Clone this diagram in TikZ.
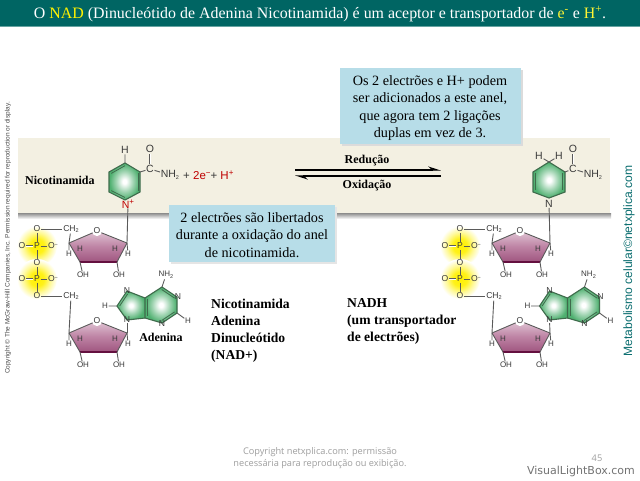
\documentclass[tikz,border=0pt]{standalone}
\usepackage{fontspec}
\setmainfont{Liberation Serif}
\newfontfamily\chemf{Liberation Sans}
\newfontfamily\footf{Open Sans}
\newfontfamily\vlbf{DejaVu Sans}
\usetikzlibrary{calc,arrows.meta}
\definecolor{teal0}{HTML}{006563}
\definecolor{band0}{HTML}{F3F0E2}
\definecolor{call0}{HTML}{B7DDE8}
\definecolor{atom0}{HTML}{3A3A3A}
\definecolor{bond0}{HTML}{5A5A5A}
\definecolor{ringline}{HTML}{3F6B4C}
\definecolor{ringdark}{HTML}{4FB070}
\definecolor{sugdark}{HTML}{A85A86}
\definecolor{sugedge}{HTML}{64103F}
\definecolor{hiyel}{HTML}{FFF000}
\definecolor{labteal}{HTML}{0B6E70}
\pgfdeclareradialshading{ringsh}{\pgfpoint{0bp}{0bp}}{color(0bp)=(white); color(3bp)=(white); color(14bp)=(ringdark!55!white); color(24bp)=(ringdark); color(50bp)=(ringdark)}
\pgfdeclareradialshading{glowsh}{\pgfpoint{0bp}{0bp}}{color(0bp)=(hiyel); color(9bp)=(hiyel!90!white); color(17bp)=(hiyel!40!white); color(25bp)=(white); color(50bp)=(white)}
\newcommand{\sbs}[1]{\raisebox{-1.6pt}{\fontsize{5.5}{6}\selectfont #1}}
\newcommand{\sps}[1]{\raisebox{2.6pt}{\fontsize{5.5}{6}\selectfont #1}}
\newcommand{\spb}[1]{\raisebox{3.6pt}{\fontsize{8}{8}\selectfont #1}}
\tikzset{
  atom/.style={font=\chemf\fontsize{8.6}{9}\selectfont,text=atom0,inner sep=0.6pt},
  atomb/.style={atom,font=\chemf\fontsize{10.5}{11}\selectfont},
  atomh/.style={atom,fill=white,rounded corners=2pt},
  hlab/.style={atom,font=\chemf\fontsize{8}{8}\selectfont},
  bond/.style={draw=bond0,line width=0.9pt},
  rbond/.style={draw=ringline,line width=1.1pt},
  redtxt/.style={font=\chemf\fontsize{11.5}{12}\selectfont,inner sep=0pt},
  caption/.style={font=\fontsize{14.2}{17.6}\selectfont,align=center,inner sep=0pt,text=black},
  blocktxt/.style={font=\bfseries\fontsize{13.6}{17}\selectfont,align=left,anchor=north west,inner sep=0pt,text=black},
  smallbold/.style={font=\bfseries\fontsize{12}{13}\selectfont,inner sep=0pt,text=black},
  callbox/.style={fill=call0,draw=none},
  head/.style={font=\fontsize{15.9}{17}\selectfont,text=white,inner sep=0pt},
  foot/.style={font=\footf\fontsize{9.2}{12}\selectfont,text=black!38,align=center,inner sep=0pt},
}
\newcommand{\sugar}[3]{%
\begin{scope}[shift={(#2,#3)}]
  \coordinate (#1L) at (69,243); \coordinate (#1R) at (127,243);
  \coordinate (#1BL) at (80,262); \coordinate (#1BR) at (117,262);
  \coordinate (#1T) at (97,231);
  \shade[top color=sugdark!35!white,bottom color=sugdark!95!black,middle color=sugdark!75!white]
     (#1L)--(#1T)--(#1R)--(#1BR)--(#1BL)--cycle;
  \draw[bond] (#1L)--(#1T)--(#1R);
  \draw[bond] (#1L)--(#1BL) (#1R)--(#1BR);
  \draw[draw=sugedge,line width=2.6pt] (#1BL)--(#1BR);
  \node[atomh,circle,inner sep=0.4pt] (#1O) at (#1T) {O};
  \node[hlab] (#1h1) at (80,249) {H};
  \node[hlab] (#1h2) at (115,249) {H};
  \node[hlab] (#1h3) at (69,254) {H};
  \node[hlab] (#1h4) at (128,254) {H};
  \draw[bond] (#1L)--(#1h3) (#1R)--(#1h4);
  \node[hlab] (#1oh1) at (83,275) {OH};
  \node[hlab] (#1oh2) at (119,275) {OH};
  \draw[bond] (#1BL)--(#1oh1) (#1BR)--(#1oh2);
\end{scope}}
\newcommand{\phos}[3]{%
\begin{scope}[shift={(#2,#3)}]
  \shade[shading=glowsh] (37,246) circle (20);
  \shade[shading=glowsh] (37,279) circle (20);
  \node[atom] (#1a) at (37,229) {O};
  \node[atom] (#1P) at (37,246) {P};
  \node[atom] (#1b) at (22,246) {O};
  \node[atom] (#1c) at (53,246) {O\sps{−}};
  \node[atom] (#1d) at (37,263) {O};
  \node[atom] (#1Q) at (37,279) {P};
  \node[atom] (#1e) at (22,279) {O};
  \node[atom] (#1f) at (53,279) {O\sps{−}};
  \node[atom] (#1g) at (37,296) {O};
  \node[atom] (#1ch) at (71,229) {CH\sbs{2}};
  \node[atom] (#1ci) at (71,296) {CH\sbs{2}};
  \draw[bond] (#1a)--(#1P) (#1P)--(#1d) (#1d)--(#1Q) (#1Q)--(#1g);
  \draw[bond] (#1P)--(#1c) (#1Q)--(#1f);
  \draw[bond,double,double distance=1pt,line width=0.6pt] (#1b)--(#1P);
  \draw[bond,double,double distance=1pt,line width=0.6pt] (#1e)--(#1Q);
  \draw[bond] (#1a)--(#1ch) (#1g)--(#1ci);
\end{scope}}
\newcommand{\aden}[3]{%
\begin{scope}[shift={(#2,#3)}]
  \coordinate (#1c6) at (162,287); \coordinate (#1n1) at (177,297);
  \coordinate (#1c2) at (177,313); \coordinate (#1n3) at (162,323);
  \coordinate (#1c4) at (145,318); \coordinate (#1c5) at (145,298);
  \coordinate (#1n7) at (127,291); \coordinate (#1c8) at (117,306);
  \coordinate (#1n9) at (127,320); \coordinate (#1cen) at (160,305);
  \coordinate (#1cenb) at (130,306);
  \shade[shading=ringsh] (#1c6)--(#1n1)--(#1c2)--(#1n3)--(#1c4)--(#1c5)--cycle;
  \shade[shading=ringsh] (#1c5)--(#1n7)--(#1c8)--(#1n9)--(#1c4)--cycle;
  \draw[rbond] (#1c6)--(#1n1)--(#1c2)--(#1n3)--(#1c4)--(#1c5)--cycle;
  \draw[rbond] (#1c5)--(#1n7)--(#1c8)--(#1n9)--(#1c4);
  \draw[rbond,line width=0.8pt] ($(#1c6)!.14!(#1cen)$)--($(#1n1)!.14!(#1cen)$);
  \draw[rbond,line width=0.8pt] ($(#1c2)!.14!(#1cen)$)--($(#1n3)!.14!(#1cen)$);
  \draw[rbond,line width=0.8pt] ($(#1c4)!.16!(#1cen)$)--($(#1c5)!.16!(#1cen)$);
  \draw[rbond,line width=0.8pt] ($(#1n7)!.2!(#1cenb)$)--($(#1c8)!.2!(#1cenb)$);
  \node[atom,inner sep=0pt] (#1N1) at (178,297) {N};
  \node[atom,inner sep=0pt] (#1N3) at (162,324) {N};
  \node[atom,inner sep=0pt] (#1N7) at (127,291) {N};
  \node[atom,inner sep=0pt] (#1N9) at (127,320) {N};
  \node[hlab] (#1nh) at (166,275) {NH\sbs{2}};
  \node[hlab] (#1h8) at (105,306) {H};
  \node[hlab] (#1h2) at (188,321) {H};
  \draw[bond] (#1c6)--(#1nh) (#1c8)--(#1h8) (#1c2)--(#1h2);
\end{scope}}
\begin{document}
\begin{tikzpicture}[x=1pt,y=-1pt]
\useasboundingbox (0,0) rectangle (640,480);
\fill[white] (0,0) rectangle (640,480);
\fill[teal0] (0,0) rectangle (640,26);
\fill[teal0!60!white] (0,26) rectangle (640,27);
\node[head] (title) at (320,14) {O \textcolor{yellow}{NAD} (Dinucleótido de Adenina Nicotinamida) é um aceptor e transportador de \textcolor{yellow!80!white}{e\textsuperscript{-}} e \textcolor{yellow!80!white}{H\textsuperscript{+}}.};
\shade[top color=black!45,bottom color=white] (18,213) rectangle (611,219);
\fill[band0] (18,138) rectangle (610,213);
\phos{pa}{0}{0}
\phos{pb}{423}{0}
\sugar{sa}{0}{0}
\sugar{sb}{0}{90}
\sugar{sc}{423}{0}
\sugar{sd}{423}{90}
\aden{aa}{0}{0}
\aden{ab}{422.5}{0}
\draw[bond] (pach)--(saL);
\draw[bond] (paci)--(sbL);
\draw[bond] (pbch)--(scL);
\draw[bond] (pbci)--(sdL);
\draw[bond] (aaN9)--(sbR);
\draw[bond] (abN9)--(sdR);
% left nicotinamide
\coordinate (na) at (125,163); \coordinate (nb) at (140,172);
\coordinate (nc) at (140,192); \coordinate (nd) at (125,200);
\coordinate (ne) at (109,192); \coordinate (nf) at (109,172);
\coordinate (ncen) at (125,182);
\shade[shading=ringsh] (na)--(nb)--(nc)--(nd)--(ne)--(nf)--cycle;
\draw[rbond] (na)--(nb)--(nc)--(nd)--(ne)--(nf)--cycle;
\draw[rbond,line width=.8pt] ($(nf)!.14!(ncen)$)--($(na)!.14!(ncen)$);
\draw[rbond,line width=.8pt] ($(nb)!.14!(ncen)$)--($(nc)!.14!(ncen)$);
\draw[rbond,line width=.8pt] ($(ne)!.14!(ncen)$)--($(nd)!.14!(ncen)$);
\node[atomb] (nH) at (125,150) {H};
\node[atomb] (nO) at (150,149) {O};
\node[atomb] (nC) at (150,169) {C};
\node[atomb,anchor=west] (nN) at (160,175) {NH\sbs{2}};
\node[atomb,inner sep=0pt,text=red!75!black] (nP) at (128,204) {N\spb{+}};
\draw[bond] (na)--(nH) (nb)--(nC) (nC)--(nN);
\draw[bond,double,double distance=1pt,line width=.6pt] (nC)--(nO);
\draw[bond] (nP)--(saR);
\node[redtxt,anchor=west] (eqn) at (183,175) {\textcolor{atom0}{+ }\textcolor{red!75!black}{2e\spb{−}}\textcolor{atom0}{ + }\textcolor{red!75!black}{H\spb{+}}};
\node[smallbold,anchor=west] (nicol) at (25,180) {Nicotinamida};
% right nicotinamide
\coordinate (ma) at (549,162); \coordinate (mb) at (565,172);
\coordinate (mc) at (565,192); \coordinate (md) at (549,198);
\coordinate (me) at (533,192); \coordinate (mf) at (533,172);
\coordinate (mcen) at (549,181);
\shade[shading=ringsh] (ma)--(mb)--(mc)--(md)--(me)--(mf)--cycle;
\draw[rbond] (ma)--(mb)--(mc)--(md)--(me)--(mf)--cycle;
\draw[rbond,line width=.8pt] ($(mf)!.14!(mcen)$)--($(me)!.14!(mcen)$);
\draw[rbond,line width=.8pt] ($(mb)!.14!(mcen)$)--($(mc)!.14!(mcen)$);
\node[atomb] (mH) at (539,156) {H};
\node[atomb] (mI) at (559,156) {H};
\node[atomb] (mO) at (573,149) {O};
\node[atomb] (mC) at (573,169) {C};
\node[atomb,anchor=west] (mN) at (583,175) {NH\sbs{2}};
\node[atomb,inner sep=0pt] (mP) at (549,204) {N};
\draw[bond] (ma)--(mH) (ma)--(mI) (mb)--(mC) (mC)--(mN);
\draw[bond,double,double distance=1pt,line width=.6pt] (mC)--(mO);
\draw[bond] (mP)--(scR);
% arrows
\coordinate (ra) at (295,170); \coordinate (rb) at (441,170);
\coordinate (oa) at (441,176); \coordinate (ob) at (295,176);
\draw[line width=1.1pt,-{Stealth[left,length=11pt,width=7pt]}] (ra)--(rb);
\draw[line width=1.1pt,-{Stealth[left,length=11pt,width=7pt]}] (oa)--(ob);
\node[smallbold] (red) at (367,161) {Redução};
\node[smallbold] (oxi) at (367,186) {Oxidação};
% callouts
\fill[black!14] (342,70) rectangle (523,146);
\fill[callbox] (340,68) rectangle (521,144);
\node[caption] (c1) at (430,108) {Os 2 electrões e H+ podem\\ser adicionados a este anel,\\que agora tem 2 ligações\\duplas em vez de 3.};
\fill[black!10] (171,207) rectangle (337,264);
\fill[callbox] (169,205) rectangle (335,262);
\node[caption] (c2) at (252,235) {2 electrões são libertados\\durante a oxidação do anel\\de nicotinamida.};
% labels
\node[smallbold] (adl) at (161,337) {Adenina};
\node[blocktxt] (t1) at (211,298.5) {Nicotinamida\\Adenina\\Dinucleótido\\(NAD+)};
\node[blocktxt] (t2) at (347,298.5) {NADH\\(um transportador\\de electrões)};
% side texts
\node[rotate=90,font=\chemf\fontsize{6.5}{7}\selectfont,text=black!70,inner sep=0pt] (cp) at (8,238) {Copyright © The McGraw-Hill Companies, Inc. Permission required for reproduction or display.};
\node[rotate=90,font=\chemf\fontsize{12.1}{14}\selectfont,text=labteal,inner sep=0pt] (mt) at (629,261) {Metabolismo celular©netxplica.com};
% footer
\node[foot] (f1) at (320,458) {Copyright netxplica.com: permissão\\necessária para reprodução ou exibição.};
\node[foot] (f2) at (597,458) {45};
\node[font=\vlbf\fontsize{11}{12}\selectfont,text=black!55,inner sep=0pt] (f3) at (581,471.5) {VisualLightBox.com};
\end{tikzpicture}
\end{document}
